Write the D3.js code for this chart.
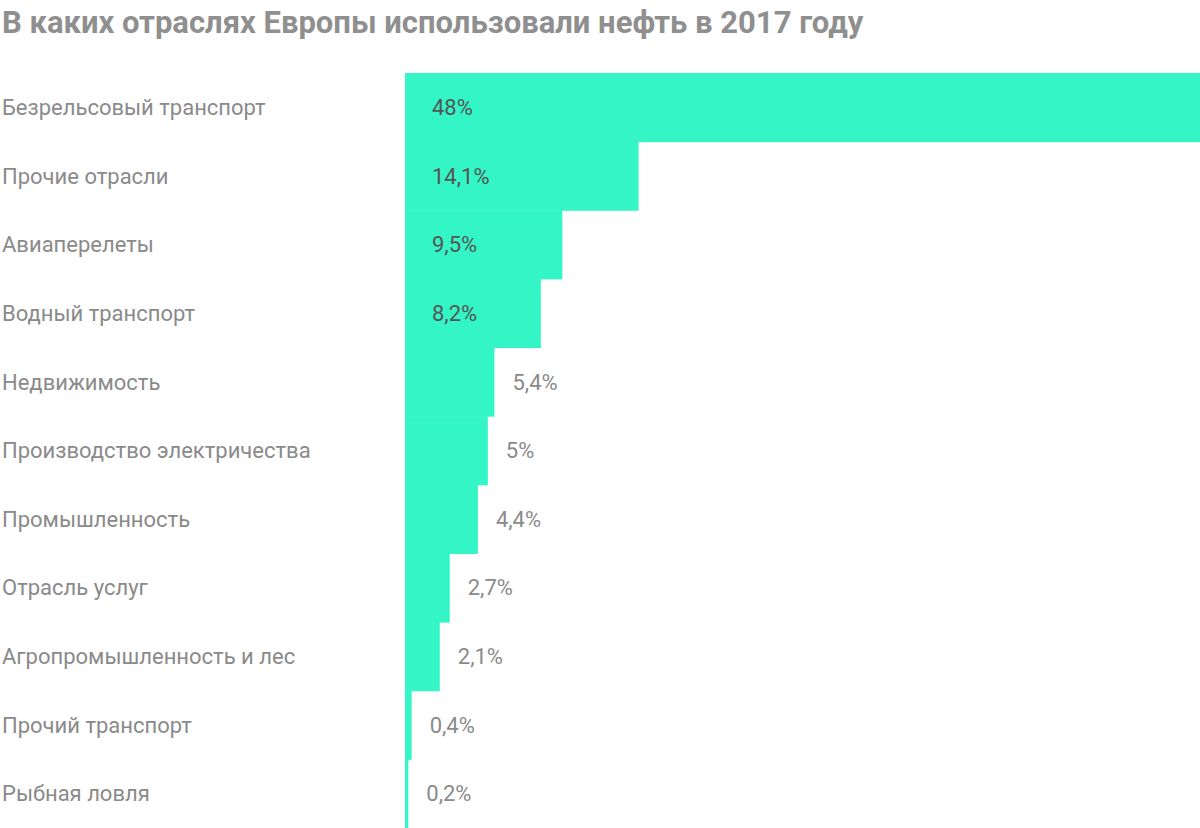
<!DOCTYPE html>
<html><head><meta charset="utf-8">
<script src="https://cdn.jsdelivr.net/npm/d3@7"></script>
<style>body{margin:0;background:#fff}</style></head>
<body><svg id="c" width="1200" height="828"></svg>
<script>
const categories=["Безрельсовый транспорт","Прочие отрасли","Авиаперелеты","Водный транспорт","Недвижимость","Производство электричества","Промышленность","Отрасль услуг","Агропромышленность и лес","Прочий транспорт","Рыбная ловля"];
const values=[48,14.1,9.5,8.2,5.4,5,4.4,2.7,2.1,0.4,0.2];
const valueLabels=["48%","14,1%","9,5%","8,2%","5,4%","5%","4,4%","2,7%","2,1%","0,4%","0,2%"];
const title="В каких отраслях Европы использовали нефть в 2017 году";
const svg=d3.select("#c");
const font="Roboto, 'Noto Sans', sans-serif";
svg.append("text").attr("x",2).attr("y",33).text(title)
 .attr("font-family",font).attr("font-weight",700).attr("font-size",31).attr("fill","#8f8f8f");
const x=d3.scaleLinear().domain([0,48]).range([405,1200]);
const y=d3.scaleBand().domain(categories).range([73,828]).padding(0);
svg.selectAll("rect").data(values).join("rect")
 .attr("x",x(0)).attr("y",(d,i)=>y(categories[i])).attr("width",d=>x(d)-x(0)).attr("height",y.bandwidth()+0.5)
 .attr("fill","#33f5c6");
svg.selectAll("text.cat").data(categories).join("text").attr("class","cat")
 .attr("x",2).attr("y",d=>y(d)+y.bandwidth()/2).attr("dy","0.35em").text(d=>d)
 .attr("font-family",font).attr("font-size",22).attr("fill","#8a8a8a");
svg.selectAll("text.val").data(values).join("text").attr("class","val")
 .attr("x",(d,i)=>i<4?432:x(d)+18).attr("y",(d,i)=>y(categories[i])+y.bandwidth()/2).attr("dy","0.35em")
 .text((d,i)=>valueLabels[i])
 .attr("font-family",font).attr("font-size",22).attr("fill",(d,i)=>i<4?"#555":"#8a8a8a");
</script></body></html>
